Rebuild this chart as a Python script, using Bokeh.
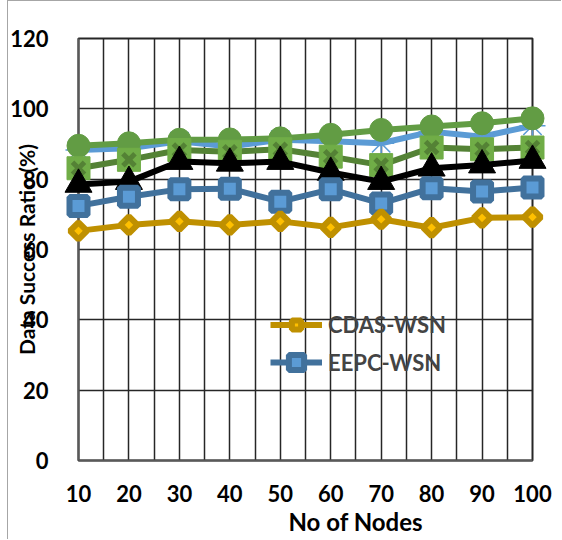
import math
from bokeh.plotting import figure
from bokeh.models import (Legend, LegendItem, Title, SingleIntervalTicker, FixedTicker, Range1d)
from bokeh.embed import file_html
from bokeh.resources import INLINE

nodes = [10, 20, 30, 40, 50, 60, 70, 80, 90, 100]
cdas_wsn = [65.3, 67.0, 68.0, 67.0, 68.0, 66.3, 68.6, 66.2, 69.0, 69.2]
eepc_wsn = [72.4, 75.0, 77.1, 77.3, 73.6, 77.1, 73.1, 77.4, 76.5, 77.6]
series_tri = [78.5, 79.3, 85.0, 84.5, 85.0, 81.9, 79.3, 83.1, 84.0, 85.3]
series_xsq = [83.1, 85.5, 88.3, 87.8, 88.5, 86.4, 84.0, 89.0, 88.5, 89.0]
series_ast = [88.3, 88.8, 90.8, 89.3, 91.2, 90.8, 90.2, 93.5, 92.1, 95.2]
series_cir = [89.5, 90.2, 91.2, 91.3, 91.6, 92.6, 94.0, 95.0, 95.9, 97.3]
y_ticks = [0, 20, 40, 60, 80, 100, 120]

FONT = "Lato"

p = figure(width=554, height=539, output_backend="svg", toolbar_location=None,
           x_range=Range1d(10, 100), y_range=Range1d(0, 120),
           min_border_left=70, min_border_right=30, min_border_top=37, min_border_bottom=80)
p.styles = {"border-left": "1px solid #A6A6A6", "border-top": "1px solid #A6A6A6",
            "margin-left": "7px"}
p.background_fill_color = "white"
p.border_fill_color = "white"
p.outline_line_color = "#262626"
p.outline_line_width = 2

# grids
p.xgrid.ticker = SingleIntervalTicker(interval=5)
p.ygrid.ticker = FixedTicker(ticks=y_ticks)
for g in (p.xgrid, p.ygrid):
    g.grid_line_color = "#262626"
    g.grid_line_width = 1.5
    g.grid_line_alpha = 1

# axes
p.xaxis.ticker = SingleIntervalTicker(interval=10)
p.yaxis.ticker = FixedTicker(ticks=y_ticks)
for ax in (p.xaxis, p.yaxis):
    ax.axis_line_color = "#595959"
    ax.axis_line_width = 2
    ax.major_tick_line_color = None
    ax.minor_tick_line_color = None
    ax.major_label_text_font = FONT
    ax.major_label_text_font_style = "bold"
    ax.major_label_text_font_size = "22px"
    ax.major_label_text_color = "black"
p.yaxis.major_label_standoff = 24
p.xaxis.major_label_standoff = 18

p.yaxis.axis_label = "Data Success Ratio (%)"
p.yaxis.axis_label_standoff = -32
p.yaxis.axis_label_text_font = FONT
p.yaxis.axis_label_text_font_style = "bold"
p.yaxis.axis_label_text_font_size = "21px"
p.yaxis.axis_label_text_color = "black"

xt = Title(text="No of Nodes", align="left", offset=210, standoff=0,
           text_font=FONT, text_font_style="bold", text_font_size="24px", text_color="black")
p.add_layout(xt, "below")

LV = "overlay"
# series (bottom to top)
r_ast_l = p.line(nodes, series_ast, line_color="#5B9BD5", line_width=6, level=LV)
r_ast_m = p.scatter(nodes, series_ast, marker="asterisk", size=26, line_color="#5B9BD5", line_width=1.5, level=LV)

r_cir_l = p.line(nodes, series_cir, line_color="#629C44", line_width=6, level=LV)
r_cir_m = p.scatter(nodes, series_cir, marker="circle", size=23, fill_color="#629C44", line_color="#629C44", level=LV)

r_xsq_l = p.line(nodes, series_xsq, line_color="#548235", line_width=6, level=LV)
r_xsq_m = p.scatter(nodes, series_xsq, marker="square", size=23, fill_color="#70AD47", line_color="#70AD47", line_width=1, level=LV)
r_xsq_x = p.scatter(nodes, series_xsq, marker="x", size=17, line_color="#548235", line_width=5, level=LV)

r_tri_l = p.line(nodes, series_tri, line_color="black", line_width=6, level=LV)
r_tri_m = p.scatter(nodes, series_tri, marker="triangle", size=27, fill_color="black", line_color="black", level=LV)

r_eepc_l = p.line(nodes, eepc_wsn, line_color="#41719C", line_width=6, level=LV)
r_eepc_m = p.scatter(nodes, eepc_wsn, marker="square", size=18, fill_color="#5B9BD5", line_color="#41719C", line_width=6, level=LV)

r_cdas_l = p.line(nodes, cdas_wsn, line_color="#BF9000", line_width=6, level=LV)
r_cdas_m = p.scatter(nodes, cdas_wsn, marker="square", angle=math.pi / 4, size=12, fill_color="#FFC000",
                     line_color="#BF9000", line_width=6, level=LV)

def make_legend(label, renderers, gh, loc):
    lg = Legend(items=[LegendItem(label=label, renderers=renderers)], location=loc)
    lg.background_fill_alpha = 0
    lg.border_line_color = None
    lg.label_text_font = FONT
    lg.label_text_font_style = "bold"
    lg.label_text_font_size = "22px"
    lg.glyph_width = 52
    lg.glyph_height = gh
    lg.label_height = gh
    lg.padding = 0
    lg.margin = 0
    lg.label_standoff = 6
    return lg

# item centres at screen y 325 and 362
p.add_layout(make_legend("CDAS-WSN", [r_cdas_l, r_cdas_m], 23, (192, 460 - 326 - 11.5)), "center")
p.add_layout(make_legend("EEPC-WSN", [r_eepc_l, r_eepc_m], 38, (192, 460 - 362 - 19)), "center")

open("out.html", "w").write(file_html(p, INLINE))
